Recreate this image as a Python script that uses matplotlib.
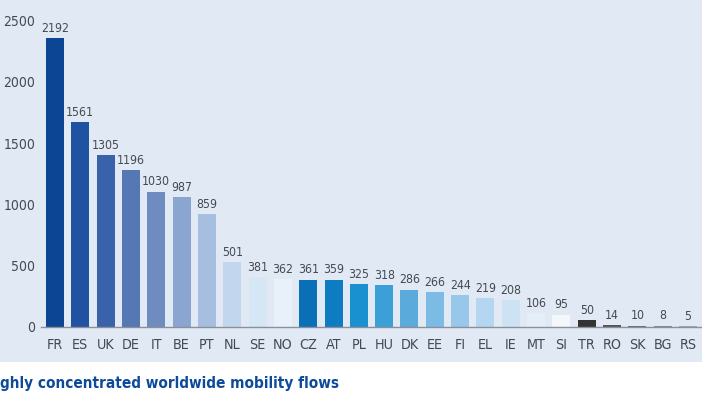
import matplotlib
matplotlib.use("Agg")
import matplotlib.pyplot as plt
from matplotlib.patches import Rectangle

# ==========================================
# Data
# ==========================================
countries = ["FR", "ES", "UK", "DE", "IT", "BE", "PT", "NL", "SE", "NO",
             "CZ", "AT", "PL", "HU", "DK", "EE", "FI", "EL", "IE", "MT",
             "SI", "TR", "RO", "SK", "BG", "RS"]
# printed value labels
labels = [2192, 1561, 1305, 1196, 1030, 987, 859, 501, 381, 362,
          361, 359, 325, 318, 286, 266, 244, 219, 208, 106,
          95, 50, 14, 10, 8, 5]
# bar heights as they sit against the y axis
heights = [2355, 1672, 1400, 1280, 1103, 1059, 919, 530, 408, 388,
           386, 384, 348, 340, 305, 284, 258, 233, 220, 112,
           101, 54, 15, 11, 9, 5]
colors = ["#0b4594", "#1f52a0", "#3a62ab", "#5577b4", "#6f8cc0", "#8aa6d0",
          "#a6bfe0", "#c2d7ee", "#d5e6f5", "#e8f1fa",
          "#0b6fb8", "#0d7cc3", "#1990cf", "#3b9fd8", "#5aaadc", "#7bbbe4",
          "#97c8ea", "#b5d6f0", "#cde3f4", "#e4eef8", "#f3f7fc",
          "#333333", "#555555", "#6e6e6e", "#8a8a8a", "#a8a8a8"]
y_ticks = [0, 500, 1000, 1500, 2000, 2500]
caption = "ghly concentrated worldwide mobility flows"
# ==========================================

BG = "#e1e9f4"
TXT = "#454a52"
plt.rcParams["font.family"] = ["DejaVu Sans"]
plt.rcParams["font.stretch"] = "condensed"

fig = plt.figure(figsize=(7.02, 4.03), dpi=100, facecolor=BG)
# white strip under the chart panel
fig.patches.append(Rectangle((0, 0), 1, 41 / 403, transform=fig.transFigure,
                             facecolor="white", edgecolor="none", zorder=0))

ax = fig.add_axes([41 / 702, 76 / 403, 661 / 702, 306.5 / 403])
ax.set_facecolor(BG)

x = range(len(countries))
ax.bar(x, heights, width=0.71, color=colors, zorder=2)
for xi, h, lab in zip(x, heights, labels):
    ax.text(xi, h + 28, str(lab), ha="center", va="bottom",
            fontsize=8.8, color=TXT)

ax.set_xlim(-0.55, len(countries) - 0.45)
ax.set_ylim(0, 2500)
ax.set_yticks(y_ticks)
ax.set_yticklabels([str(t) for t in y_ticks], fontsize=10, color=TXT)
ax.set_xticks(list(x))
ax.set_xticklabels(countries, fontsize=10.3, color=TXT)
ax.tick_params(axis="x", length=0, pad=8)
ax.tick_params(axis="y", length=0, pad=4)

for s in ["top", "right", "left"]:
    ax.spines[s].set_visible(False)
ax.spines["bottom"].set_color("#8a8f99")
ax.spines["bottom"].set_linewidth(1.0)

fig.text(0.0, 15 / 403, caption, ha="left", va="baseline",
         fontsize=11, fontweight="bold", color="#0e4a9a")

fig.savefig("out.png", dpi=100, facecolor=BG)
